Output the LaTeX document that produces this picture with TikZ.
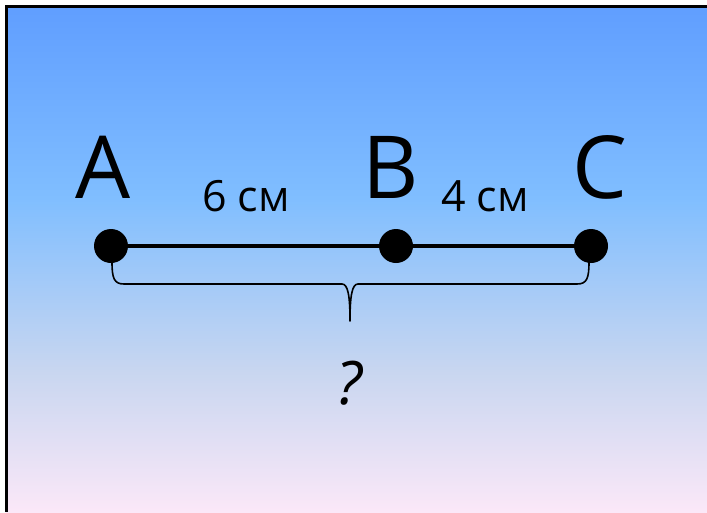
\documentclass[tikz,border=0pt]{standalone}
\usepackage{fontspec}
\setmainfont{Open Sans}
\definecolor{bgtop}{RGB}{96,158,255}
\definecolor{bgmid}{RGB}{128,190,255}
\definecolor{bglow}{RGB}{200,214,240}
\definecolor{bgbot}{RGB}{251,232,248}
\pgfdeclareverticalshading{bgshade}{100bp}{color(0bp)=(bgbot); color(25bp)=(bgbot); color(39bp)=(bglow); color(56bp)=(bgmid); color(75bp)=(bgtop); color(100bp)=(bgtop)}
\tikzset{
  dot/.style={circle,fill=black,minimum size=34pt,inner sep=0pt},
  bigletter/.style={inner sep=0pt,font=\fontsize{87}{87}\selectfont},
  lenlabel/.style={inner sep=0pt,font=\fontsize{43}{43}\selectfont},
  qlabel/.style={inner sep=0pt,font=\fontsize{60}{60}\selectfont\itshape},
  segment/.style={line width=4pt},
  bracestyle/.style={line width=1.6pt,line join=round}
}
\begin{document}
\begin{tikzpicture}[x=1pt,y=-1pt]
\useasboundingbox (0,0) rectangle (707,512);
\fill[white] (0,0) rectangle (707,512);
\shade[shading=bgshade] (6,6) rectangle (707,512);
\draw[line width=3pt] (6,512) -- (6,6) -- (707,6);
% points
\node[dot] (A) at (111,246) {};
\node[dot] (B) at (396,246) {};
\node[dot] (C) at (591,246) {};
\draw[segment] (A) -- (B) -- (C);
% labels
\node[bigletter] (lA) at (103.5,167.5) {A};
\node[bigletter] (lB) at (391,167.5) {B};
\node[bigletter] (lC) at (599.5,167.5) {C};
\node[lenlabel] (lAB) at (246,196) {6 см};
\node[lenlabel] (lBC) at (485,196) {4 см};
% brace
\coordinate (bL) at (112,262);
\coordinate (bR) at (589,262);
\coordinate (tip) at (350,321);
\draw[bracestyle] (bL) .. controls (112,278) and (114,284) .. (124,284)
  -- (342,284) .. controls (348,284) and (350,296) .. (tip)
  .. controls (350,296) and (352,284) .. (358,284)
  -- (577,284) .. controls (587,284) and (589,278) .. (bR);
\node[qlabel] (q) at (349,383) {?};
\end{tikzpicture}
\end{document}
